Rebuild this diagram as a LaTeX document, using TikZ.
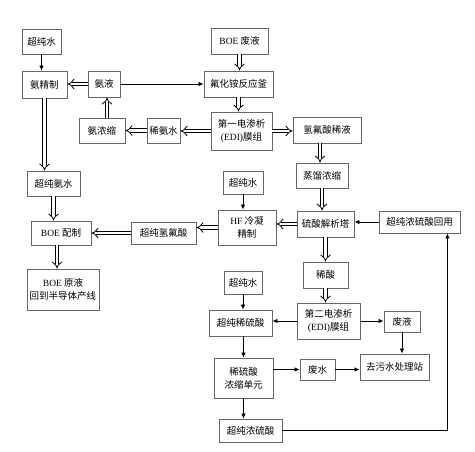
\documentclass[tikz,border=0pt]{standalone}
\usepackage{fontspec}
\setmainfont{Liberation Serif}
\newfontfamily\cjk{Noto Sans CJK SC}
\usetikzlibrary{arrows.meta}
\newcommand\latn[1]{{\rmfamily #1}}

\begin{document}
\begin{tikzpicture}[x=1pt, y=-1pt,
  bx/.style={draw=black!60, line width=0.9pt, align=center, inner sep=0pt,
             font=\cjk\fontsize{9.5}{13}\selectfont},
  arr/.style={-{Latex[length=5pt,width=4.5pt]}, line width=0.8pt},
  dbl/.style={-{Implies[length=4pt,width=9pt]}, double, double distance=2.8pt, line width=0.8pt}]
\useasboundingbox (0,0) rectangle (475,451);
% left part: ammonia loop
\node[bx, minimum width=39pt, minimum height=25pt] (upw1)    at (41.5,41.5)  {超纯水};
\node[bx, minimum width=45pt, minimum height=27pt] (ampur)   at (44.5,84.5)  {氨精制};
\node[bx, minimum width=32pt, minimum height=26pt] (ammliq)  at (104,84)     {氨液};
\node[bx, minimum width=57pt, minimum height=26pt] (boew)    at (239.5,41)   {\latn{BOE} 废液};
\node[bx, minimum width=69pt, minimum height=26pt] (nh4f)    at (238.5,84)   {氟化铵反应釜};
\node[bx, minimum width=46pt, minimum height=25pt] (amcon)   at (102,130.5)  {氨浓缩};
\node[bx, minimum width=33pt, minimum height=25pt] (dilam)   at (163.5,130.5){稀氨水};
\node[bx, minimum width=61pt, minimum height=38pt] (edia)    at (241.5,131)  {第一电渗析\\\latn{(EDI)}膜组};
\node[bx, minimum width=68pt, minimum height=26pt] (hfdil)   at (327,130)    {氢氟酸稀液};
\node[bx, minimum width=53pt, minimum height=25pt] (upam)    at (53.5,183.5) {超纯氨水};
\node[bx, minimum width=60pt, minimum height=24pt] (boeprep) at (61,233)     {\latn{BOE} 配制};
\node[bx, minimum width=65pt, minimum height=22pt] (uphf)    at (163.5,233)  {超纯氢氟酸};
\node[bx, minimum width=72pt, minimum height=41pt] (boeraw)  at (63,289.5)   {\latn{BOE} 原液\\回到半导体产线};
% right part: acid loop
\node[bx, minimum width=52pt, minimum height=25pt] (distil)  at (322,175.5)  {蒸馏浓缩};
\node[bx, minimum width=57pt, minimum height=26pt] (strip)   at (325.5,224)  {硫酸解析塔};
\node[bx, minimum width=81pt, minimum height=22pt] (reuse)   at (419.5,222)  {超纯浓硫酸回用};
\node[bx, minimum width=58pt, minimum height=35pt] (hfcond)  at (247,227.5)  {\latn{HF} 冷凝\\精制};
\node[bx, minimum width=40pt, minimum height=23pt] (upw2)    at (243,182.5)  {超纯水};
\node[bx, minimum width=45pt, minimum height=26pt] (dilac)   at (325.5,275)  {稀酸};
\node[bx, minimum width=63pt, minimum height=36pt] (edib)    at (328.5,321)  {第二电渗析\\\latn{(EDI)}膜组};
\node[bx, minimum width=63pt, minimum height=26pt] (updil)   at (240.5,323)  {超纯稀硫酸};
\node[bx, minimum width=36pt, minimum height=21pt] (wliq)    at (402,321.5)  {废液};
\node[bx, minimum width=69pt, minimum height=26pt] (wwt)     at (394.5,367)  {去污水处理站};
\node[bx, minimum width=59pt, minimum height=40pt] (conc)    at (243.5,378)  {稀硫酸\\浓缩单元};
\node[bx, minimum width=35pt, minimum height=21pt] (wwater)  at (317.5,369.5){废水};
\node[bx, minimum width=63pt, minimum height=23pt] (upconc)  at (250.5,430.5){超纯浓硫酸};
\node[bx, minimum width=38pt, minimum height=23pt] (upw3)    at (243,282.5)  {超纯水};
% connectors
\draw[arr] (upw1.south) -- (upw1.south |- ampur.north);
\draw[dbl] (ammliq.west) -- (ammliq.west -| ampur.east);
\draw[arr] (ammliq.east) -- (ammliq.east -| nh4f.west);
\draw[dbl] (boew.south) -- (boew.south |- nh4f.north);
\draw[dbl] (nh4f.south) -- (nh4f.south |- edia.north);
\draw[dbl] (edia.west) -- (edia.west -| dilam.east);
\draw[dbl] (dilam.west) -- (dilam.west -| amcon.east);
\draw[dbl] ([xshift=5]amcon.north) -- ([xshift=5]amcon.north |- ammliq.south);
\draw[dbl] (edia.east) -- (edia.east -| hfdil.west);
\draw[dbl] ([xshift=-7]hfdil.south) -- ([xshift=-7]hfdil.south |- distil.north);
\draw[dbl] (distil.south) -- (distil.south |- strip.north);
\draw[dbl] (strip.west) -- (strip.west -| hfcond.east);
\draw[arr] (reuse.west) -- (reuse.west -| strip.east);
\draw[arr] (upw2.south) -- (upw2.south |- hfcond.north);
\draw[dbl] (hfcond.west) -- (hfcond.west -| uphf.east);
\draw[dbl] (uphf.west) -- (uphf.west -| boeprep.east);
\draw[dbl] (ampur.south) -- (ampur.south |- upam.north);
\draw[dbl] (upam.south) -- (upam.south |- boeprep.north);
\draw[dbl] ([xshift=-4]boeprep.south) -- ([xshift=-4]boeprep.south |- boeraw.north);
\draw[dbl] (strip.south) -- (strip.south |- dilac.north);
\draw[dbl] (dilac.south) -- (dilac.south |- edib.north);
\draw[arr] (upw3.south) -- (upw3.south |- updil.north);
\draw[arr] (edib.west) -- (edib.west -| updil.east);
\draw[arr] (edib.east) -- (edib.east -| wliq.west);
\draw[arr] (wliq.south) -- (wliq.south |- wwt.north);
\draw[arr] (conc.north |- updil.south) -- (conc.north);
\draw[arr] (conc.east |- wwater.west) -- (wwater.west);
\draw[arr] (wwater.east) -- (wwater.east -| wwt.west);
\draw[arr] (conc.south) -- (conc.south |- upconc.north);
\draw[arr] (upconc.east) -| ([xshift=-13]reuse.south east);
\end{tikzpicture}
\end{document}
